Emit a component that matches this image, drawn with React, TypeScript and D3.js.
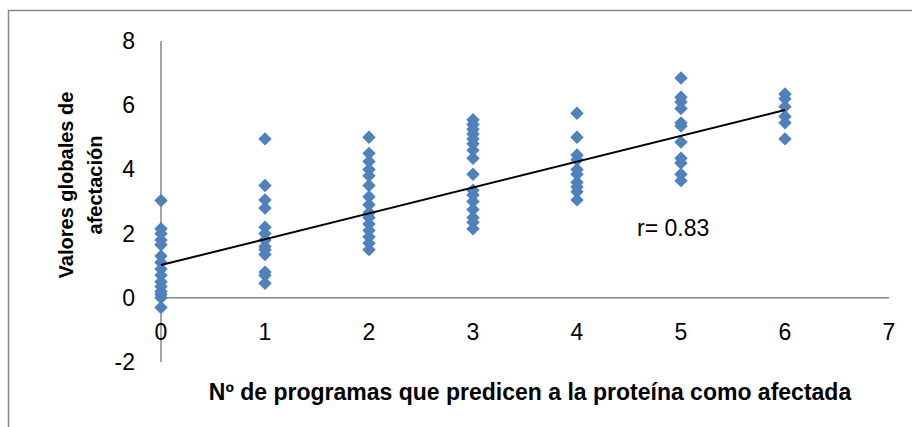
import React from "react";
import * as d3 from "d3";

const xTicks = [0, 1, 2, 3, 4, 5, 6, 7];
const yTicks = [-2, 0, 2, 4, 6, 8];

const col0 = [3.03, 2.15, 2.0, 1.8, 1.65, 1.3, 1.1, 0.9, 0.7, 0.5, 0.35, 0.2, 0.1, 0.0, -0.3];
const col1 = [4.95, 3.5, 3.05, 2.8, 2.2, 2.0, 1.8, 1.6, 1.5, 1.35, 0.8, 0.7, 0.45];
const col2 = [5.0, 4.5, 4.25, 4.0, 3.8, 3.5, 3.15, 2.9, 2.65, 2.5, 2.3, 2.1, 1.9, 1.7, 1.5];
const col3 = [5.55, 5.4, 5.25, 5.1, 4.95, 4.8, 4.6, 4.35, 3.85, 3.35, 3.2, 3.0, 2.75, 2.5, 2.35, 2.15];
const col4 = [5.75, 5.0, 4.45, 4.3, 4.0, 3.85, 3.6, 3.45, 3.3, 3.05];
const col5 = [6.85, 6.25, 6.1, 5.9, 5.45, 5.35, 4.85, 4.35, 4.2, 3.85, 3.65];
const col6 = [6.35, 6.2, 5.95, 5.65, 5.45, 4.95];
const columns = [col0, col1, col2, col3, col4, col5, col6];

const trendIntercept = 1.02;
const trendSlope = 0.805;
const trendX = [0, 6];
const rLabel = "r= 0.83";
const xTitle = "Nº de programas que predicen a la proteína como afectada";
const yTitle1 = "Valores globales de";
const yTitle2 = "afectación";

export default function App() {
  const x = d3.scaleLinear().domain([0, 7]).range([161, 889]);
  const y = d3.scaleLinear().domain([-2, 8]).range([362, 41]);
  const axisColor = "#868686";
  const font = "'Liberation Sans', Arial, sans-serif";
  const diamond = d3.symbol().type(d3.symbolDiamond2 as any).size(115);
  const pts = columns.flatMap((vals, i) => vals.map((v) => ({ x: i, y: v })));
  const line = d3
    .line<number>()
    .x((d) => x(d))
    .y((d) => y(trendIntercept + trendSlope * d));

  return (
    <svg
      width={912}
      height={427}
      style={{ position: "absolute", left: 0, top: 0, background: "#fff" }}
    >
      <rect x={8.5} y={10.5} width={930} height={440} fill="#fff" stroke={axisColor} strokeWidth={1.5} />
      <line x1={x(0)} x2={x(0)} y1={y(8)} y2={y(-2)} stroke={axisColor} strokeWidth={1.5} />
      <line x1={x(0)} x2={x(7)} y1={y(0)} y2={y(0)} stroke={axisColor} strokeWidth={1.5} />
      {yTicks.map((t) => (
        <text key={"y" + t} x={135} y={y(t)} dy="0.35em" textAnchor="end" fontFamily={font} fontSize={23} fill="#000">
          {t}
        </text>
      ))}
      {xTicks.map((t) => (
        <text key={"x" + t} x={x(t)} y={340} textAnchor="middle" fontFamily={font} fontSize={23} fill="#000">
          {t}
        </text>
      ))}
      {pts.map((p, i) => (
        <path
          key={i}
          d={diamond() as string}
          transform={`translate(${x(p.x)},${y(p.y)})`}
          fill="#4F81BD"
        />
      ))}
      <path d={line(trendX) as string} stroke="#000" strokeWidth={2} fill="none" />
      <text x={637} y={236} fontFamily={font} fontSize={23} fill="#000">
        {rLabel}
      </text>
      <text x={530} y={400} textAnchor="middle" fontFamily={font} fontSize={23} fontWeight="bold" fill="#000">
        {xTitle}
      </text>
      <g transform={`translate(73,185) rotate(-90)`}>
        <text x={0} y={0} textAnchor="middle" fontFamily={font} fontSize={20} fontWeight="bold" fill="#000">
          {yTitle1}
        </text>
      </g>
      <g transform={`translate(102,185) rotate(-90)`}>
        <text x={0} y={0} textAnchor="middle" fontFamily={font} fontSize={20} fontWeight="bold" fill="#000">
          {yTitle2}
        </text>
      </g>
    </svg>
  );
}
